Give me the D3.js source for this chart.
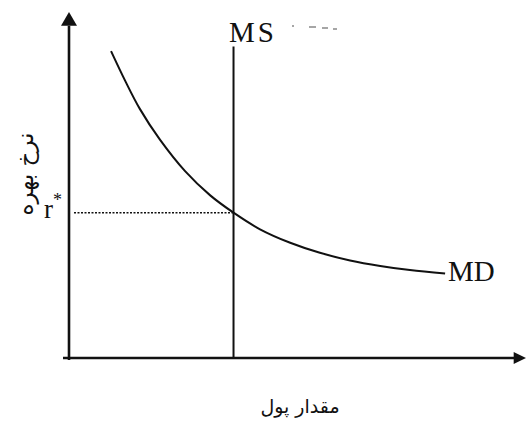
<!DOCTYPE html>
<html>
<head>
<meta charset="utf-8">
<script src="https://cdn.jsdelivr.net/npm/d3@7/dist/d3.min.js"></script>
<style>
  html, body { margin: 0; padding: 0; background: #fff; }
  svg { display: block; }
</style>
</head>
<body>
<script>
// Money market: money demand curve (MD) and vertical money supply (MS)
const mdQuantity = [0.92, 1.23, 1.55, 1.99, 2.54, 3.09, 3.6, 4.18, 4.84, 5.49, 6.15, 6.81, 7.46, 8.23];
const mdRate     = [8.87, 8.01, 7.2, 6.31, 5.4, 4.7, 4.2, 3.72, 3.33, 3.04, 2.82, 2.66, 2.54, 2.44];
const msQuantity = [3.6];
const msTop      = [9.0];
const equilibriumRate = [4.2];
const labels = { supply: "MS", demand: "MD", rate: "r", yTitle: "نرخ بهره", xTitle: "مقدار پول" };

const W = 526, H = 427;
const svg = d3.select("body").append("svg").attr("width", W).attr("height", H);

const x = d3.scaleLinear().domain([0, 10]).range([69, 526]);
const y = d3.scaleLinear().domain([0, 10]).range([358, 12]);

const ink = "#111";

// axes
svg.append("line")
  .attr("x1", x(0)).attr("x2", x(0))
  .attr("y1", y(0) + 2).attr("y2", y(9.6))
  .attr("stroke", ink).attr("stroke-width", 2.6);
svg.append("line")
  .attr("x1", x(0) - 6).attr("x2", x(9.75))
  .attr("y1", y(0)).attr("y2", y(0))
  .attr("stroke", ink).attr("stroke-width", 2.6);

// arrow heads
svg.append("path")
  .attr("d", `M${x(0)},${y(10)} L${x(0) - 8},${y(9.6)} L${x(0) + 8},${y(9.6)} Z`)
  .attr("fill", ink);
svg.append("path")
  .attr("d", `M${x(10)},${y(0)} L${x(9.73)},${y(0) - 6} L${x(9.73)},${y(0) + 6} Z`)
  .attr("fill", ink);

// equilibrium rate guide
svg.append("line")
  .attr("x1", x(0) + 5).attr("x2", x(msQuantity[0]))
  .attr("y1", y(equilibriumRate[0])).attr("y2", y(equilibriumRate[0]))
  .attr("stroke", ink).attr("stroke-width", 1.6)
  .attr("stroke-dasharray", "2,1.5");

// money supply
svg.append("line")
  .attr("x1", x(msQuantity[0])).attr("x2", x(msQuantity[0]))
  .attr("y1", y(0)).attr("y2", y(msTop[0]))
  .attr("stroke", ink).attr("stroke-width", 2);

// money demand
const md = mdQuantity.map((q, i) => [q, mdRate[i]]);
svg.append("path")
  .datum(md)
  .attr("d", d3.line().x(d => x(d[0])).y(d => y(d[1])).curve(d3.curveCatmullRom.alpha(0.5)))
  .attr("fill", "none").attr("stroke", ink).attr("stroke-width", 2);

// labels
const serif = "'Liberation Serif', 'Times New Roman', serif";
svg.append("text")
  .attr("x", 229).attr("y", 42)
  .attr("font-family", serif).attr("font-size", 29)
  .attr("letter-spacing", 3)
  .attr("fill", ink).text(labels.supply);
svg.append("g").attr("stroke", "#888").attr("stroke-width", 1.5)
  .selectAll("line").data([[292, 294, 26], [309, 316, 27], [322, 328, 28], [333, 337, 29]])
  .join("line")
  .attr("x1", d => d[0]).attr("x2", d => d[1])
  .attr("y1", d => d[2]).attr("y2", d => d[2]);

svg.append("text")
  .attr("x", 448).attr("y", 281)
  .attr("font-family", serif).attr("font-size", 29)
  .attr("fill", ink).text(labels.demand);

const r = svg.append("text")
  .attr("x", 44).attr("y", 218)
  .attr("font-family", serif).attr("font-size", 27)
  .attr("fill", ink);
r.append("tspan").text(labels.rate);
r.append("tspan").attr("dy", -12).attr("font-size", 18).text("*");

svg.append("text")
  .attr("transform", "translate(33,174) rotate(-90)")
  .attr("text-anchor", "middle")
  .attr("font-family", "'DejaVu Sans', 'Noto Sans', sans-serif")
  .attr("font-size", 23)
  .attr("direction", "rtl")
  .attr("fill", ink).text(labels.yTitle);

svg.append("text")
  .attr("x", 300).attr("y", 413)
  .attr("text-anchor", "middle")
  .attr("font-family", "'DejaVu Sans', 'Noto Sans', sans-serif")
  .attr("font-size", 19)
  .attr("direction", "rtl")
  .attr("fill", ink).text(labels.xTitle);
</script>
</body>
</html>
